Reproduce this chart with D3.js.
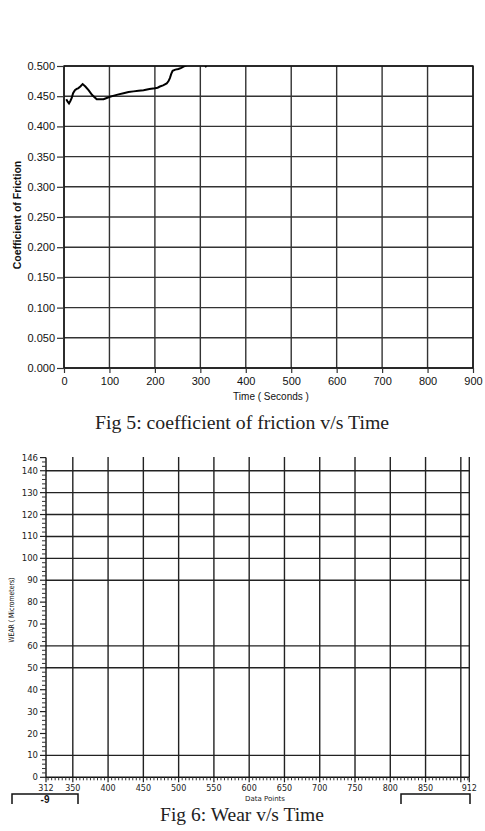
<!DOCTYPE html>
<html>
<head>
<meta charset="utf-8">
<script src="https://cdn.jsdelivr.net/npm/d3@7"></script>
<style>
  body { margin: 0; background: #fff; }
  svg { display: block; }
</style>
</head>
<body>
<div id="chart"></div>
<script>
// Fig 5 data: coefficient of friction over time
var timeSec = [5, 8, 11, 14, 17, 20, 24, 28, 31, 36, 41, 47, 54, 62, 72, 80, 87, 94, 101, 110, 120, 131, 142, 153, 164, 175, 188, 200, 206, 211, 218, 226, 230, 233, 236, 239, 245, 252, 258, 263, 269, 280, 295, 305, 312, 318, 330];
var cof = [0.445, 0.441, 0.438, 0.442, 0.447, 0.455, 0.460, 0.462, 0.463, 0.466, 0.470, 0.466, 0.460, 0.452, 0.445, 0.445, 0.445, 0.447, 0.449, 0.451, 0.453, 0.455, 0.457, 0.458, 0.459, 0.460, 0.462, 0.463, 0.464, 0.466, 0.468, 0.471, 0.475, 0.480, 0.487, 0.492, 0.494, 0.495, 0.497, 0.499, 0.501, 0.505, 0.510, 0.506, 0.4995, 0.507, 0.515];
var timeTicks = [0, 100, 200, 300, 400, 500, 600, 700, 800, 900];
var cofTicks = [0, 0.05, 0.1, 0.15, 0.2, 0.25, 0.3, 0.35, 0.4, 0.45, 0.5];

// Fig 6: wear axis (no trace plotted)
var pointTicks = [312, 350, 400, 450, 500, 550, 600, 650, 700, 750, 800, 850, 900, 912];
var pointLabels = [312, 350, 400, 450, 500, 550, 600, 650, 700, 750, 800, 850, 912];
var wearTicks = [0, 10, 20, 30, 40, 50, 60, 70, 80, 90, 100, 110, 120, 130, 140, 146];
var wearGrid = [10, 50, 60, 90, 100, 110, 120, 130, 140];
var readouts = ["-9", ""];

var W = 485, H = 831;
var svg = d3.select("#chart").append("svg").attr("width", W).attr("height", H);

// ---------- Fig 5 ----------
var x1 = d3.scaleLinear().domain([0, 900]).range([64, 473]);
var y1 = d3.scaleLinear().domain([0, 0.5]).range([368, 66]);

var g1 = svg.append("g");
svg.append("clipPath").attr("id", "clip1").append("rect")
  .attr("x", 64).attr("y", 66).attr("width", 409).attr("height", 302);

// grid
g1.selectAll("line.vg").data(timeTicks).enter().append("line")
  .attr("x1", d => x1(d)).attr("x2", d => x1(d))
  .attr("y1", 66).attr("y2", 368)
  .attr("stroke", "#333").attr("stroke-width", 1.4);
g1.selectAll("line.hg").data(cofTicks).enter().append("line")
  .attr("x1", 64).attr("x2", 473)
  .attr("y1", d => y1(d)).attr("y2", d => y1(d))
  .attr("stroke", "#333").attr("stroke-width", 1.4);
g1.append("rect").attr("x", 64).attr("y", 66).attr("width", 409).attr("height", 302)
  .attr("fill", "none").attr("stroke", "#111").attr("stroke-width", 1.4);

// axes
var yAxis1 = d3.axisLeft(y1).tickValues(cofTicks).tickFormat(d3.format(".3f")).tickSize(7).tickPadding(2);
var xAxis1 = d3.axisBottom(x1).tickValues(timeTicks).tickFormat(d3.format("d")).tickSize(5).tickPadding(4);
g1.append("g").attr("transform", "translate(64,0)").call(yAxis1);
g1.append("g").attr("transform", "translate(0,368)").call(xAxis1);
g1.selectAll(".domain").remove();
g1.selectAll(".tick line").attr("stroke", "#333").attr("stroke-width", 1.2);
g1.selectAll(".tick text").attr("font-family", "Liberation Sans, Arial, sans-serif")
  .attr("font-size", 11).attr("fill", "#111");

// line
var line1 = d3.line().x((d, i) => x1(timeSec[i])).y(d => y1(d)).curve(d3.curveLinear);
g1.append("path").datum(cof).attr("clip-path", "url(#clip1)")
  .attr("d", line1).attr("fill", "none").attr("stroke", "#000").attr("stroke-width", 2);

// labels
g1.append("text").attr("transform", "translate(21,215) rotate(-90)")
  .attr("text-anchor", "middle").attr("font-family", "Liberation Sans, Arial, sans-serif")
  .attr("font-size", 10.5).attr("font-weight", "bold").attr("fill", "#111")
  .text("Coefficient of Friction");
g1.append("text").attr("x", 271).attr("y", 400).attr("text-anchor", "middle")
  .attr("font-family", "Liberation Sans, Arial, sans-serif").attr("font-size", 10)
  .attr("fill", "#111").text("Time ( Seconds )");
svg.append("text").attr("x", 242).attr("y", 429).attr("text-anchor", "middle")
  .attr("font-family", "Liberation Serif, Times New Roman, serif").attr("font-size", 19.8)
  .attr("fill", "#222").text("Fig 5: coefficient of friction v/s Time");

// ---------- Fig 6 ----------
var x2 = d3.scaleLinear().domain([312, 912]).range([46, 469.3]);
var y2 = d3.scaleLinear().domain([0, 146]).range([777.3, 457.6]);
var g2 = svg.append("g");

g2.selectAll("line.vg").data(pointTicks.slice(1)).enter().append("line")
  .attr("x1", d => x2(d)).attr("x2", d => x2(d))
  .attr("y1", 457).attr("y2", y2(0))
  .attr("stroke", "#222").attr("stroke-width", 1.4);
g2.selectAll("line.hg").data(wearGrid).enter().append("line")
  .attr("x1", 46).attr("x2", x2(912))
  .attr("y1", d => y2(d)).attr("y2", d => y2(d))
  .attr("stroke", "#222").attr("stroke-width", 1.4);

// axis lines
g2.append("line").attr("x1", 46).attr("x2", 46).attr("y1", y2(146)).attr("y2", y2(0))
  .attr("stroke", "#111").attr("stroke-width", 1.4);
g2.append("line").attr("x1", 46).attr("x2", x2(912)).attr("y1", y2(0)).attr("y2", y2(0))
  .attr("stroke", "#111").attr("stroke-width", 1.4);

// minor ticks
var yMinor = d3.range(2, 146, 2).filter(d => d % 10 !== 0);
g2.selectAll("line.ym").data(yMinor).enter().append("line")
  .attr("x1", 42).attr("x2", 46).attr("y1", d => y2(d)).attr("y2", d => y2(d))
  .attr("stroke", "#333").attr("stroke-width", 1);
var xMinor = d3.range(315, 912, 5).filter(d => d % 50 !== 0);
g2.selectAll("line.xm").data(xMinor).enter().append("line")
  .attr("x1", d => x2(d)).attr("x2", d => x2(d)).attr("y1", y2(0)).attr("y2", y2(0) + 3)
  .attr("stroke", "#333").attr("stroke-width", 1);

// major ticks + labels
g2.selectAll("line.yM").data(wearTicks).enter().append("line")
  .attr("x1", 40).attr("x2", 46).attr("y1", d => y2(d)).attr("y2", d => y2(d))
  .attr("stroke", "#222").attr("stroke-width", 1.2);
g2.selectAll("text.yl").data(wearTicks).enter().append("text")
  .attr("x", 38).attr("y", d => y2(d) + 3).attr("text-anchor", "end")
  .attr("font-family", "DejaVu Sans, sans-serif").attr("font-size", 8.5).attr("fill", "#222")
  .text(d => d);
g2.selectAll("line.xM").data(pointTicks).enter().append("line")
  .attr("x1", d => x2(d)).attr("x2", d => x2(d)).attr("y1", y2(0)).attr("y2", y2(0) + 5)
  .attr("stroke", "#222").attr("stroke-width", 1.2);
g2.selectAll("text.xl").data(pointLabels).enter().append("text")
  .attr("x", d => x2(d)).attr("y", 791).attr("text-anchor", "middle")
  .attr("font-family", "DejaVu Sans, sans-serif").attr("font-size", 8).attr("fill", "#222")
  .text(d => d);

g2.append("text").attr("transform", "translate(14,610) rotate(-90)")
  .attr("text-anchor", "middle").attr("font-family", "DejaVu Sans Condensed, DejaVu Sans, sans-serif")
  .attr("font-size", 7.5).attr("textLength", 65).attr("lengthAdjust", "spacingAndGlyphs")
  .attr("fill", "#111").text("WEAR ( Micrometers)");
g2.append("text").attr("x", 265).attr("y", 801).attr("text-anchor", "middle")
  .attr("font-family", "DejaVu Sans, sans-serif").attr("font-size", 7)
  .attr("fill", "#222").text("Data Points");

// readout boxes (partly hidden)
var boxes = [{x0: 12, x1: 78, v: readouts[0]}, {x0: 401, x1: 470, v: readouts[1]}];
g2.selectAll("path.box").data(boxes).enter().append("path")
  .attr("d", d => "M" + d.x0 + ",804V794H" + d.x1 + "V804")
  .attr("fill", "none").attr("stroke", "#111").attr("stroke-width", 1.5);
g2.selectAll("text.box").data(boxes).enter().append("text")
  .attr("x", d => (d.x0 + d.x1) / 2).attr("y", 803).attr("text-anchor", "middle")
  .attr("font-family", "Liberation Sans, Arial, sans-serif").attr("font-size", 10)
  .attr("font-weight", "bold").attr("fill", "#111").text(d => d.v);

svg.append("text").attr("x", 242).attr("y", 821).attr("text-anchor", "middle")
  .attr("font-family", "Liberation Serif, Times New Roman, serif").attr("font-size", 19.5)
  .attr("fill", "#222").text("Fig 6: Wear v/s Time");
</script>
</body>
</html>
